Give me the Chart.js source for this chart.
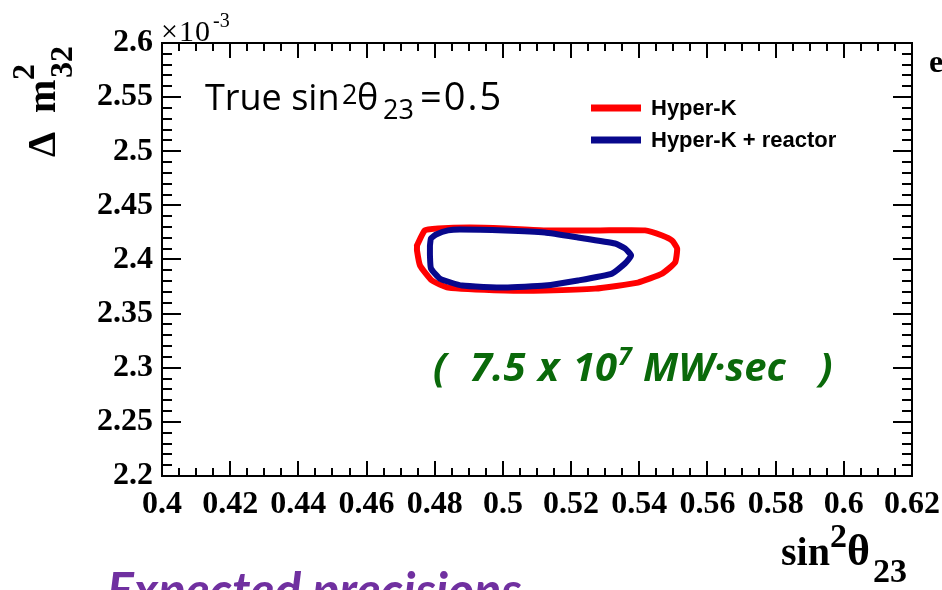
<!DOCTYPE html>
<html>
<head>
<meta charset="utf-8">
<script src="https://cdn.jsdelivr.net/npm/chart.js@4/dist/chart.umd.min.js"></script>
<style>
  html, body { margin: 0; padding: 0; background: #ffffff; }
  #wrap { width: 942px; height: 590px; position: relative; }
</style>
</head>
<body>
<div id="wrap"><canvas id="c" width="942" height="590"></canvas></div>
<script>
// Axis ranges and tick labels (Δm²32 in units of 10^-3 eV²)
const xTickValues = [0.4, 0.42, 0.44, 0.46, 0.48, 0.5, 0.52, 0.54, 0.56, 0.58, 0.6, 0.62];
const yTickValues = [2.2, 2.25, 2.3, 2.35, 2.4, 2.45, 2.5, 2.55, 2.6];

// Series names
const seriesNames = ['Hyper-K', 'Hyper-K + reactor'];

// Hyper-K alone: allowed-region contour
const hkX = [0.4748, 0.4771, 0.4810, 0.4903, 0.5006, 0.5123, 0.5285, 0.5417, 0.5467, 0.5496, 0.5511,
             0.5505, 0.5467, 0.5396, 0.5270, 0.5123, 0.5006, 0.4839, 0.4792, 0.4757, 0.4748, 0.4748];
const hkY = [2.4130, 2.4269, 2.4287, 2.4296, 2.4287, 2.4269, 2.4269, 2.4269, 2.4222, 2.4176, 2.4102,
             2.3972, 2.3870, 2.3787, 2.3731, 2.3713, 2.3713, 2.3741, 2.3806, 2.3944, 2.4083, 2.4130];

// Hyper-K combined with reactor constraint
const hkrX = [0.4786, 0.4789, 0.4804, 0.4839, 0.4874, 0.5006, 0.5123, 0.5220, 0.5329, 0.5358, 0.5376,
              0.5358, 0.5320, 0.5220, 0.5123, 0.5006, 0.4880, 0.4815, 0.4789, 0.4786, 0.4786];
const hkrY = [2.4130, 2.4194, 2.4231, 2.4269, 2.4278, 2.4269, 2.4250, 2.4204, 2.4148, 2.4102, 2.4037,
              2.3963, 2.3870, 2.3806, 2.3759, 2.3741, 2.3759, 2.3824, 2.3917, 2.4037, 2.4130];

const RED = 'rgb(255,0,0)';
const BLUE = 'rgb(8,8,140)';
const SERIF = '"Liberation Serif", "Times New Roman", serif';
const SANS = '"Open Sans", Lato, sans-serif';
const LATO = 'Lato, "Open Sans", sans-serif';

const toPoints = (xs, ys) => xs.map((x, i) => ({ x: x, y: ys[i] }));

// Draw a run of text pieces, each with its own font, offset and spacing
function drawRuns(ctx, runs, x, y, color) {
  ctx.save();
  ctx.fillStyle = color;
  ctx.textBaseline = 'alphabetic';
  ctx.textAlign = 'left';
  let cx = x;
  for (const r of runs) {
    ctx.font = r.font;
    ctx.letterSpacing = r.ls || '0px';
    if (r.x !== undefined) cx = x + r.x;
    ctx.fillText(r.t, cx, y + (r.dy || 0));
    cx += ctx.measureText(r.t).width + (r.gap || 0);
  }
  ctx.restore();
}

// Inward ticks on all four sides plus the frame
const frameTicks = {
  id: 'frameTicks',
  afterDatasetsDraw(chart) {
    const { ctx, chartArea: a, scales } = chart;
    const xs = scales.x, ys = scales.y;
    ctx.save();
    ctx.strokeStyle = '#000';
    ctx.lineWidth = 2;
    ctx.beginPath();
    for (let i = 0; i <= 44; i++) {
      const v = 0.4 + i * 0.005;
      const px = Math.round(xs.getPixelForValue(v));
      const len = (i % 4 === 0) ? 15 : 8;
      ctx.moveTo(px, a.bottom); ctx.lineTo(px, a.bottom - len);
      ctx.moveTo(px, a.top); ctx.lineTo(px, a.top + len);
    }
    for (let i = 0; i <= 40; i++) {
      const v = 2.2 + i * 0.01;
      const py = Math.round(ys.getPixelForValue(v));
      const len = (i % 5 === 0) ? 19 : 10;
      ctx.moveTo(a.left, py); ctx.lineTo(a.left + len, py);
      ctx.moveTo(a.right, py); ctx.lineTo(a.right - len, py);
    }
    ctx.stroke();
    ctx.strokeRect(a.left, a.top, a.right - a.left, a.bottom - a.top);
    ctx.restore();
  }
};

// Titles, legend, and annotation text
const decorations = {
  id: 'decorations',
  afterDraw(chart) {
    const { ctx } = chart;
    const ds = chart.data.datasets;

    // ×10^-3 multiplier
    drawRuns(ctx, [
      { t: '\u00d710', font: '30px ' + SERIF, ls: '1px' },
      { t: '-3', font: '20px ' + SERIF, dy: -14, x: 52 }
    ], 161, 41, '#000');

    // y axis title, rotated
    ctx.save();
    ctx.translate(55, 157);
    ctx.rotate(-Math.PI / 2);
    drawRuns(ctx, [
      { t: '\u0394', font: 'bold 40px ' + SERIF, x: 0 },
      { t: 'm', font: 'bold 40px ' + SERIF, x: 44 }
    ], 0, 0, '#000');
    drawRuns(ctx, [{ t: '2', font: 'bold 32px ' + SERIF }], 77, -21, '#000');
    drawRuns(ctx, [{ t: '32', font: 'bold 32px ' + SERIF }], 79, 17, '#000');
    ctx.restore();

    // x axis title
    drawRuns(ctx, [
      { t: 'sin', font: 'bold 40px ' + SERIF },
      { t: '2', font: 'bold 34px ' + SERIF, dy: -18 },
      { t: '\u03b8', font: 'bold 44px ' + SERIF, gap: 3 },
      { t: '23', font: 'bold 34px ' + SERIF, dy: 17 }
    ], 781, 565, '#000');

    // True value annotation
    drawRuns(ctx, [
      { t: 'True sin', font: '36px ' + SANS, x: 0 },
      { t: '2', font: '27px ' + SANS, dy: -6, x: 137 },
      { t: '\u03b8', font: '36px ' + SANS, x: 152 },
      { t: '23', font: '27px ' + SANS, dy: 9, x: 178 },
      { t: '=0.5', font: '38px ' + SANS, x: 215, ls: '2px' }
    ], 205, 110, '#000');

    // legend
    ctx.save();
    ctx.lineCap = 'butt';
    ctx.lineWidth = 7;
    const legendRows = [108, 140];
    legendRows.forEach((y, i) => {
      ctx.strokeStyle = ds[i].borderColor;
      ctx.beginPath(); ctx.moveTo(591, y); ctx.lineTo(641, y); ctx.stroke();
      ctx.fillStyle = '#000';
      ctx.font = 'bold 22px "Liberation Sans", Arial, sans-serif';
      ctx.textBaseline = 'middle';
      ctx.fillText(ds[i].label, 651, y + 1);
    });
    ctx.restore();

    // exposure annotation
    const G = 'italic bold 40px ' + SANS;
    drawRuns(ctx, [
      { t: '(', font: G, x: 0 },
      { t: '7.5', font: G, x: 37 },
      { t: 'x', font: G, x: 105 },
      { t: '10', font: G, x: 140 },
      { t: '7', font: 'italic bold 25px ' + SANS, dy: -16, x: 185 },
      { t: 'MW\u00b7sec', font: G, x: 210 },
      { t: ')', font: G, x: 386 }
    ], 433, 381, 'rgb(10,105,10)');

    // heading below the plot
    drawRuns(ctx, [{ t: 'Expected precisions', font: 'italic bold 50px ' + LATO }], 107, 608, 'rgb(112,48,160)');

    // neighbouring label edge
    drawRuns(ctx, [{ t: 'e', font: 'bold 32px ' + SERIF }], 929, 72, '#000');
  }
};

new Chart(document.getElementById('c'), {
  type: 'scatter',
  data: {
    datasets: [
      {
        label: seriesNames[0],
        data: toPoints(hkX, hkY),
        showLine: true,
        borderColor: RED,
        backgroundColor: RED,
        borderWidth: 6,
        pointRadius: 0,
        tension: 0.15,
        borderJoinStyle: 'round',
        borderCapStyle: 'round',
        order: 1
      },
      {
        label: seriesNames[1],
        data: toPoints(hkrX, hkrY),
        showLine: true,
        borderColor: BLUE,
        backgroundColor: BLUE,
        borderWidth: 6,
        pointRadius: 0,
        tension: 0.15,
        borderJoinStyle: 'round',
        borderCapStyle: 'round',
        order: 0
      }
    ]
  },
  options: {
    responsive: false,
    animation: false,
    devicePixelRatio: 1,
    layout: { autoPadding: false, padding: { top: 43, right: 30, left: 0, bottom: 0 } },
    plugins: {
      legend: { display: false },
      tooltip: { enabled: false },
      title: { display: false }
    },
    scales: {
      x: {
        type: 'linear',
        min: 0.4,
        max: 0.62,
        afterBuildTicks: s => { s.ticks = xTickValues.map(v => ({ value: v })); },
        afterFit: s => { s.height = 114; s.paddingLeft = 0; s.paddingRight = 0; },
        grid: { drawOnChartArea: false, drawTicks: false },
        border: { display: false },
        ticks: {
          autoSkip: false,
          maxRotation: 0,
          padding: 10,
          color: '#000',
          font: { family: SERIF, size: 32, weight: 'bold' },
          callback: v => String(+v.toFixed(2))
        }
      },
      y: {
        type: 'linear',
        min: 2.2,
        max: 2.6,
        afterBuildTicks: s => { s.ticks = yTickValues.map(v => ({ value: v })); },
        afterFit: s => { s.width = 162; s.paddingTop = 0; s.paddingBottom = 0; },
        grid: { drawOnChartArea: false, drawTicks: false },
        border: { display: false },
        ticks: {
          autoSkip: false,
          padding: 9,
          color: '#000',
          font: { family: SERIF, size: 32, weight: 'bold' },
          callback: v => String(+v.toFixed(2))
        }
      }
    }
  },
  plugins: [frameTicks, decorations]
});
</script>
</body>
</html>
